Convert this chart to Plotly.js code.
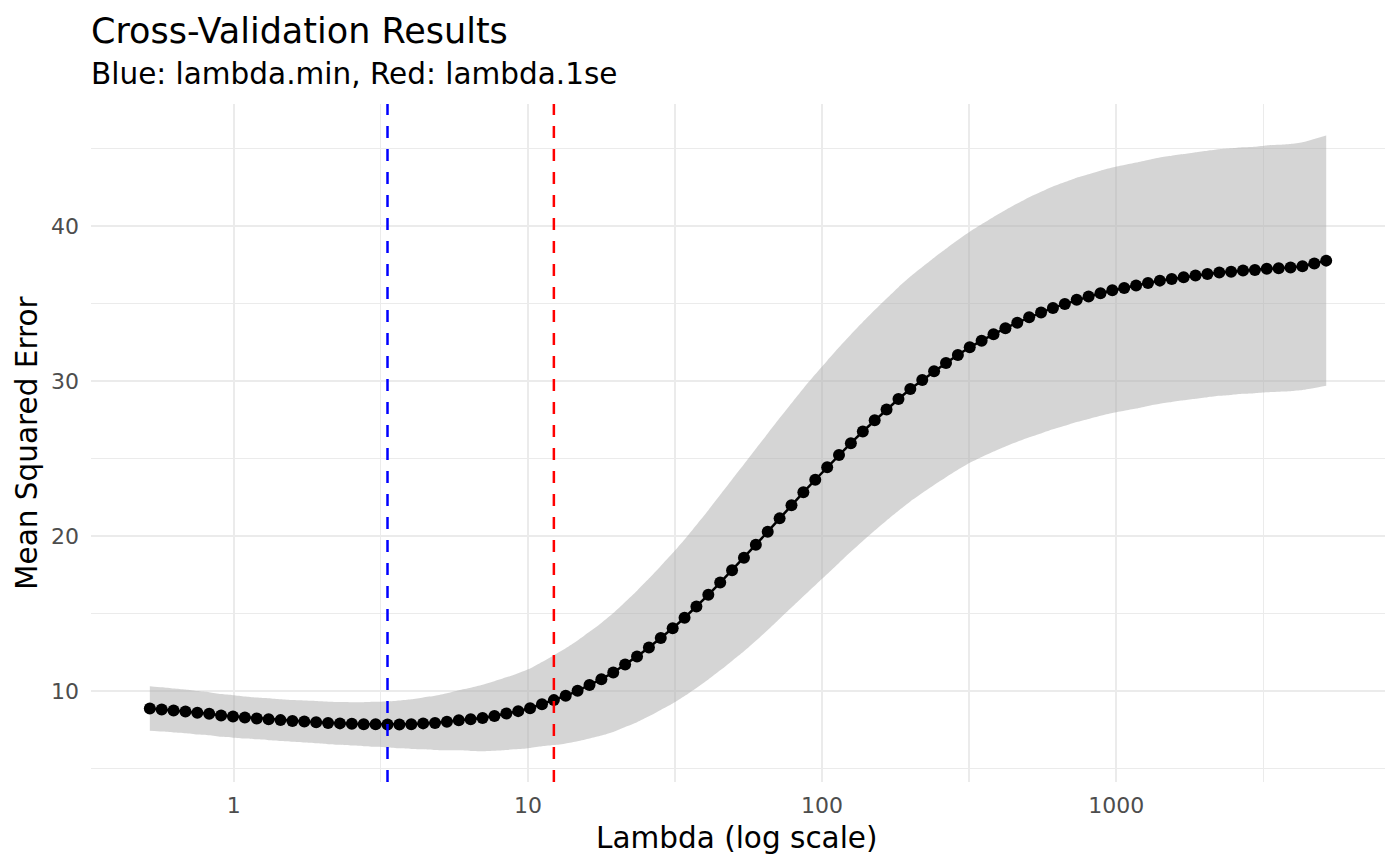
<!DOCTYPE html>
<html>
<head>
<meta charset="utf-8">
<script src="https://cdn.plot.ly/plotly-3.0.1.min.js"></script>
<style>
  html, body { margin: 0; padding: 0; background: #ffffff; }
  #chart { width: 1400px; height: 866px; }
</style>
</head>
<body>
<div id="chart"></div>
<script>
// ---- Data ----
const lambda = [
  0.5180, 0.5685, 0.6239, 0.6847, 0.7514, 0.8246, 0.9050, 0.9933, 1.090, 1.197,
  1.313, 1.441, 1.582, 1.736, 1.905, 2.091, 2.295, 2.519, 2.764, 3.034,
  3.330, 3.655, 4.011, 4.402, 4.831, 5.302, 5.819, 6.387, 7.009, 7.691,
  8.443, 9.266, 10.17, 11.16, 12.25, 13.44, 14.75, 16.19, 17.77, 19.50,
  21.40, 23.49, 25.78, 28.29, 31.05, 34.08, 37.40, 41.05, 45.05, 49.43,
  54.26, 59.55, 65.35, 71.73, 78.72, 86.39, 94.82, 104.1, 114.2, 125.3,
  137.6, 151.0, 165.7, 181.9, 199.6, 219.1, 240.4, 263.9, 289.6, 317.8,
  348.8, 382.8, 420.2, 461.1, 506.1, 555.5, 609.6, 669.1, 734.3, 805.9,
  884.5, 970.3, 1065, 1169, 1283, 1408, 1545, 1696, 1861, 2043,
  2242, 2460, 2700, 2963, 3252, 3569, 3917, 4299, 4718, 5178
];
const cvm = [
  8.88, 8.82, 8.75, 8.69, 8.60, 8.54, 8.43, 8.37, 8.30, 8.24,
  8.19, 8.13, 8.08, 8.04, 8.00, 7.95, 7.92, 7.89, 7.87, 7.86,
  7.845, 7.85, 7.87, 7.92, 7.95, 8.02, 8.12, 8.18, 8.27, 8.40,
  8.55, 8.71, 8.90, 9.16, 9.42, 9.70, 10.02, 10.39, 10.77, 11.20,
  11.72, 12.24, 12.82, 13.43, 14.05, 14.73, 15.46, 16.21, 17.00, 17.80,
  18.60, 19.44, 20.28, 21.14, 21.98, 22.82, 23.63, 24.43, 25.22, 25.99,
  26.74, 27.46, 28.16, 28.84, 29.48, 30.06, 30.62, 31.16, 31.68, 32.17,
  32.60, 33.01, 33.40, 33.76, 34.11, 34.41, 34.71, 34.97, 35.23, 35.44,
  35.66, 35.85, 36.00, 36.15, 36.32, 36.47, 36.58, 36.69, 36.80, 36.90,
  36.99, 37.05, 37.12, 37.16, 37.23, 37.27, 37.31, 37.40, 37.57, 37.76
];
const cvsd = [
  1.44, 1.43, 1.42, 1.41, 1.40, 1.39, 1.38, 1.37, 1.36, 1.35,
  1.35, 1.34, 1.34, 1.35, 1.36, 1.37, 1.38, 1.40, 1.42, 1.45,
  1.48, 1.54, 1.60, 1.67, 1.75, 1.84, 1.94, 2.04, 2.14, 2.24,
  2.34, 2.45, 2.56, 2.72, 2.90, 3.07, 3.25, 3.44, 3.63, 3.83,
  4.03, 4.24, 4.44, 4.64, 4.85, 5.05, 5.26, 5.46, 5.66, 5.85,
  6.03, 6.19, 6.34, 6.47, 6.59, 6.70, 6.80, 6.88, 6.95, 7.01,
  7.06, 7.11, 7.16, 7.21, 7.25, 7.29, 7.33, 7.37, 7.41, 7.45,
  7.50, 7.56, 7.62, 7.68, 7.74, 7.79, 7.83, 7.86, 7.88, 7.89,
  7.90, 7.91, 7.92, 7.93, 7.93, 7.94, 7.94, 7.94, 7.95, 7.95,
  7.95, 7.95, 7.95, 7.95, 7.96, 7.96, 7.97, 7.99, 8.03, 8.07
];
const lambdaMin = 3.330;
const lambda1se = 12.25;
const xTickVals = [1, 10, 100, 1000];
const xTickText = ['1', '10', '100', '1000'];
const xMinorVals = [3.162, 31.62, 316.2, 3162];
const yTickVals = [10, 20, 30, 40];
const yTickText = ['10', '20', '30', '40'];
const yMinorVals = [5, 15, 25, 35, 45];
const titleText = 'Cross-Validation Results';
const subtitleText = 'Blue: lambda.min, Red: lambda.1se';
const xTitleText = 'Lambda (log scale)';
const yTitleText = 'Mean Squared Error';

// ---- Derived series ----
const cvup = cvm.map((v, i) => v + cvsd[i]);
const cvlo = cvm.map((v, i) => v - cvsd[i]);

const FONT = 'DejaVu Sans, Verdana, sans-serif';
const GRID = '#EBEBEB';

const traces = [
  {
    x: lambda, y: cvlo, type: 'scatter', mode: 'lines',
    line: { width: 0, color: 'rgba(0,0,0,0)', shape: 'spline', smoothing: 0.6 },
    hoverinfo: 'skip', showlegend: false
  },
  {
    x: lambda, y: cvup, type: 'scatter', mode: 'lines',
    line: { width: 0, color: 'rgba(0,0,0,0)', shape: 'spline', smoothing: 0.6 },
    fill: 'tonexty', fillcolor: 'rgba(172,172,172,0.5)',
    hoverinfo: 'skip', showlegend: false
  },
  {
    x: lambda, y: cvm, type: 'scatter', mode: 'lines+markers',
    line: { color: '#000000', width: 2.5 },
    marker: { color: '#000000', size: 12 },
    showlegend: false
  }
];

const layout = {
  width: 1400, height: 866,
  margin: { l: 91, r: 15, t: 104, b: 84, pad: 0 },
  paper_bgcolor: '#ffffff', plot_bgcolor: '#ffffff',
  showlegend: false,
  font: { family: FONT, color: '#000000' },
  xaxis: {
    type: 'log',
    range: [-0.4857, 3.9141],
    tickmode: 'array', tickvals: xTickVals, ticktext: xTickText,
    ticks: '', showline: false, zeroline: false,
    showgrid: true, gridcolor: GRID, gridwidth: 2.3,
    tickfont: { family: FONT, size: 22, color: '#4D4D4D' },
    ticklabelstandoff: 8,
    minor: { tickmode: 'array', tickvals: xMinorVals, showgrid: true, gridcolor: GRID, gridwidth: 1.2, ticks: '' }
  },
  yaxis: {
    range: [4.14, 47.86],
    tickmode: 'array', tickvals: yTickVals, ticktext: yTickText,
    ticks: '', showline: false, zeroline: false,
    showgrid: true, gridcolor: GRID, gridwidth: 2.3,
    tickfont: { family: FONT, size: 22, color: '#4D4D4D' },
    ticklabelstandoff: 11,
    minor: { tickmode: 'array', tickvals: yMinorVals, showgrid: true, gridcolor: GRID, gridwidth: 1.2, ticks: '' }
  },
  shapes: [
    { type: 'line', xref: 'x', yref: 'paper', x0: lambdaMin, x1: lambdaMin, y0: 0, y1: 1,
      layer: 'above', line: { color: '#0000FF', width: 2.5, dash: '12px,11px' } },
    { type: 'line', xref: 'x', yref: 'paper', x0: lambda1se, x1: lambda1se, y0: 0, y1: 1,
      layer: 'above', line: { color: '#FF0000', width: 2.5, dash: '12px,11px' } }
  ],
  annotations: [
    { text: titleText, xref: 'paper', yref: 'paper', x: -0.0015, y: 1.108,
      xanchor: 'left', yanchor: 'middle', showarrow: false,
      font: { family: FONT, size: 35, color: '#000000' } },
    { text: subtitleText, xref: 'paper', yref: 'paper', x: -0.0015, y: 1.0437,
      xanchor: 'left', yanchor: 'middle', showarrow: false,
      font: { family: FONT, size: 29.5, color: '#000000' } },
    { text: xTitleText, xref: 'paper', yref: 'paper', x: 0.4995, y: -0.0823,
      xanchor: 'center', yanchor: 'middle', showarrow: false,
      font: { family: FONT, size: 29.5, color: '#000000' } },
    { text: yTitleText, xref: 'paper', yref: 'paper', x: -0.0495, y: 0.5,
      xanchor: 'center', yanchor: 'middle', showarrow: false, textangle: -90,
      font: { family: FONT, size: 29.5, color: '#000000' } }
  ]
};

Plotly.newPlot('chart', traces, layout, { staticPlot: true, displayModeBar: false });
</script>
</body>
</html>
